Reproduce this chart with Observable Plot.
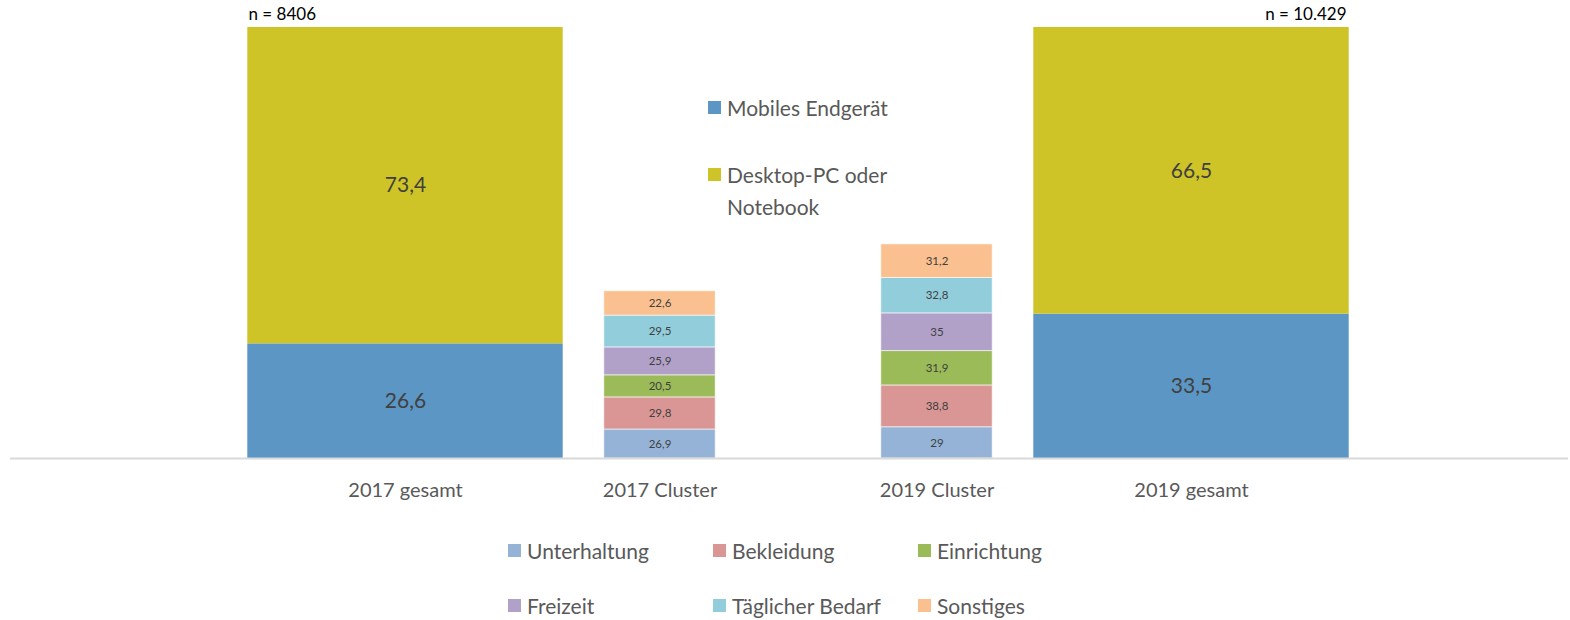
<!DOCTYPE html>
<html>
<head>
<meta charset="utf-8">
<script src="https://cdn.jsdelivr.net/npm/d3@7"></script>
<script src="https://cdn.jsdelivr.net/npm/@observablehq/plot@0.6"></script>
<style>
  body { margin: 0; background: #fff; font-family: Lato, "Liberation Sans", sans-serif; }
  #wrap { position: relative; width: 1570px; height: 620px; }
  .leg { position: absolute; color: #595959; font-size: 21px; }
  .item { display: flex; align-items: center; white-space: nowrap; }
  .sw { width: 13px; height: 13px; margin-right: 6px; flex: none; }
  #topLegend { left: 708px; top: 92px; }
  #topLegend .item { line-height: 32px; align-items: flex-start; }
  #topLegend .sw { margin-top: 9px; }
  #bottomLegend { left: 508px; top: 536px; display: grid; grid-template-columns: 205px 205px 205px; grid-auto-rows: 55px; }
  #bottomLegend .item { height: 28px; }
</style>
</head>
<body>
<div id="wrap">
  <div id="chart"></div>
  <div id="topLegend" class="leg"></div>
  <div id="bottomLegend" class="leg"></div>
</div>
<script>
// ---- data ----
const categories = ["2017 gesamt", "2017 Cluster", "2019 Cluster", "2019 gesamt"];
const gesamtCats = ["2017 gesamt", "2019 gesamt"];
const deviceTypes = ["Mobiles Endgerät", "Desktop-PC oder Notebook"];
const mobileShare = [26.6, 33.5];
const desktopShare = [73.4, 66.5];
const sampleSizes = ["n = 8406", "n = 10.429"];
const clusterCats = ["2017 Cluster", "2019 Cluster"];
const clusterNames = ["Unterhaltung", "Bekleidung", "Einrichtung", "Freizeit", "Täglicher Bedarf", "Sonstiges"];
const cluster2017 = [26.9, 29.8, 20.5, 25.9, 29.5, 22.6];
const cluster2019 = [29, 38.8, 31.9, 35, 32.8, 31.2];

// ---- styles ----
const deviceColors = ["#5b96c5", "#cec427"];
const clusterColors = ["#95b3d7", "#da9694", "#9bbb59", "#b1a0c7", "#92cddc", "#fac090"];
const CLUSTER_SCALE = 0.25; // cluster bars drawn on a 4:1 secondary axis
const clusterShift = [-7.5, 7.5]; // cluster bars sit slightly toward the middle

const fmt = v => String(v).replace(".", ",");

const gesamtRows = gesamtCats.flatMap((c, i) => [
  {cat: c, type: deviceTypes[0], value: mobileShare[i]},
  {cat: c, type: deviceTypes[1], value: desktopShare[i]}
]);
const clusterValues = [cluster2017, cluster2019];
const clusterRowsByYear = clusterCats.map((c, i) =>
  clusterNames.map((n, j) => ({cat: c, type: n, value: clusterValues[i][j]}))
);
const nRows = gesamtCats.map((c, i) => ({cat: c, label: sampleSizes[i]}));

const axisStyle = {tickSize: 0, tickPadding: 24, fontSize: 20, color: "#595959", label: null};

const clusterMarks = clusterRowsByYear.flatMap((rows, i) => [
  Plot.barY(rows, {x: "cat", y: d => d.value * CLUSTER_SCALE, fill: "type", dx: clusterShift[i],
    insetLeft: 75.3, insetRight: 75.3, stroke: "white", strokeOpacity: 0.6, strokeWidth: 1}),
  Plot.text(rows, Plot.stackY({x: "cat", y: d => d.value * CLUSTER_SCALE, text: d => fmt(d.value),
    dx: clusterShift[i], fontSize: 11.5, fill: "#404040"})),
  Plot.axisX({...axisStyle, ticks: [clusterCats[i]], dx: clusterShift[i]})
]);

const chart = Plot.plot({
  width: 1570,
  height: 510,
  marginTop: 27,
  marginBottom: 52,
  marginLeft: 10,
  marginRight: 2,
  style: {fontFamily: "Lato, 'Liberation Sans', sans-serif", background: "white"},
  x: {type: "band", domain: categories, range: [272.7, 1323.3], padding: 0},
  y: {domain: [0, 100], axis: null},
  color: {domain: [...deviceTypes, ...clusterNames], range: [...deviceColors, ...clusterColors]},
  marks: [
    Plot.barY(gesamtRows, {x: "cat", y: "value", fill: "type", insetLeft: -26.7, insetRight: -26.7}),
    Plot.text(gesamtRows, Plot.stackY({x: "cat", y: "value", text: d => fmt(d.value),
      fontSize: 21, fill: "#404040"})),
    ...clusterMarks,
    Plot.ruleY([0], {stroke: "#d9d9d9", strokeWidth: 2}),
    Plot.axisX({...axisStyle, ticks: gesamtCats}),
    Plot.text(nRows.slice(0, 1), {x: "cat", y: 100, text: "label", textAnchor: "start",
      dx: -157, dy: -13, fontSize: 17, fill: "#000"}),
    Plot.text(nRows.slice(1), {x: "cat", y: 100, text: "label", textAnchor: "end",
      dx: 155, dy: -13, fontSize: 17, fill: "#000"})
  ]
});
document.getElementById("chart").appendChild(chart);

function addItem(container, label, color, html) {
  const item = document.createElement("div");
  item.className = "item";
  const sw = document.createElement("div");
  sw.className = "sw";
  sw.style.background = color;
  const t = document.createElement("div");
  if (html) t.innerHTML = html; else t.textContent = label;
  item.appendChild(sw);
  item.appendChild(t);
  container.appendChild(item);
  return item;
}
const topLeg = document.getElementById("topLegend");
const it1 = addItem(topLeg, deviceTypes[0], deviceColors[0]);
it1.style.marginBottom = "35px";
addItem(topLeg, deviceTypes[1], deviceColors[1], "Desktop-PC oder<br>Notebook");
const bottomLeg = document.getElementById("bottomLegend");
clusterNames.forEach((n, j) => addItem(bottomLeg, n, clusterColors[j]));
</script>
</body>
</html>
